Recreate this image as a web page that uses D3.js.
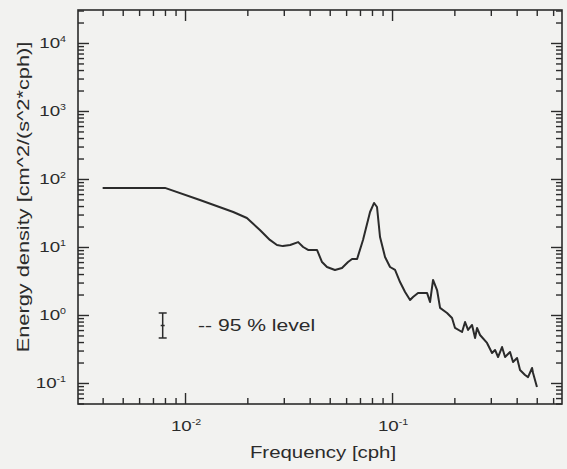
<!DOCTYPE html>
<html><head><meta charset="utf-8">
<script src="https://cdn.jsdelivr.net/npm/d3@7"></script>
<style>
html,body{margin:0;padding:0;background:#f2f2f0;}
svg{display:block;}
text{font-family:"Liberation Sans",Arial,Helvetica,sans-serif;fill:#2b2b2b;}
</style></head>
<body>
<script>
// Spectrum: frequency [cph] and energy density [cm^2/(s^2*cph)]
const freq = [0.0040,0.0080,0.0118,0.0171,0.0199,0.0230,0.0257,0.0278,0.0297,0.0322,0.0352,0.0372,0.0393,0.0434,0.0459,0.0485,0.0530,0.0573,0.0613,0.0641,0.0678,0.0724,0.0783,0.0819,0.0846,0.0875,0.0925,0.0978,0.1034,0.1093,0.1156,0.1222,0.1263,0.1335,0.1476,0.1526,0.1578,0.1650,0.1706,0.1844,0.1949,0.2015,0.2179,0.2253,0.2329,0.2435,0.2518,0.2574,0.2661,0.2876,0.3041,0.3145,0.3252,0.3399,0.3515,0.3715,0.3841,0.4017,0.4152,0.4390,0.4539,0.4746,0.4799,0.5012];
const energy = [74,74,49.1,32.7,26.7,17.8,12.7,10.7,10.3,10.7,11.8,10.0,9.04,9.04,6.01,5.08,4.59,4.91,6.01,6.66,6.66,12.7,32.7,44.4,38.7,14.0,7.13,5.08,4.59,3.05,2.18,1.66,1.84,2.11,2.11,1.55,3.27,2.33,1.27,1.07,0.904,0.644,0.562,0.789,0.602,0.713,0.459,0.644,0.508,0.388,0.276,0.306,0.241,0.338,0.241,0.286,0.204,0.233,0.155,0.131,0.122,0.166,0.140,0.0873];
const xMajor = [0.01, 0.1];
const xMajorLabels = ["-2", "-1"];
const yMajor = [0.1, 1, 10, 100, 1000, 10000];
const yMajorLabels = ["-1", "0", "1", "2", "3", "4"];
const errBar = {f: 0.0078, lo: 0.459, hi: 1.07, mid: 0.70};
const legendText = "-- 95 % level";
const xTitle = "Frequency [cph]";
const yTitle = "Energy density [cm^2/(s^2*cph)]";

const W = 567, H = 469;
const L = 78, R = 562, T = 10, B = 404;
const svg = d3.select("body").append("svg").attr("width", W).attr("height", H);

const x = d3.scaleLog().domain([Math.pow(10,-2.517), Math.pow(10,-0.179)]).range([L, R]);
const y = d3.scaleLog().domain([Math.pow(10,-1.309), Math.pow(10,4.485)]).range([B, T]);

function minors(scale) {
  const [a, b] = scale.domain();
  const out = [];
  for (let e = Math.floor(Math.log10(a)); e <= Math.ceil(Math.log10(b)); e++) {
    for (let k = 2; k <= 9; k++) {
      const v = k * Math.pow(10, e);
      if (v > a && v < b) out.push(v);
    }
  }
  return out;
}
const xMin = minors(x), yMin = minors(y);
const xMaj = xMajor.filter(v => v > x.domain()[0] && v < x.domain()[1]);
const yMaj = yMajor.filter(v => v > y.domain()[0] && v < y.domain()[1]);

function addAxis(axis, tx, ty) {
  const g = svg.append("g").attr("transform", `translate(${tx},${ty})`).call(axis);
  g.select(".domain").remove();
  g.selectAll("line").attr("stroke", "#2b2b2b").attr("stroke-width", 1.4);
  g.selectAll("text").remove();
}
const MAJ = 11, MIN = 6;
addAxis(d3.axisTop(x).tickValues(xMin).tickSize(MIN).tickFormat(""), 0, B);
addAxis(d3.axisTop(x).tickValues(xMaj).tickSize(MAJ).tickFormat(""), 0, B);
addAxis(d3.axisBottom(x).tickValues(xMin).tickSize(MIN).tickFormat(""), 0, T);
addAxis(d3.axisBottom(x).tickValues(xMaj).tickSize(MAJ).tickFormat(""), 0, T);
addAxis(d3.axisRight(y).tickValues(yMin).tickSize(MIN).tickFormat(""), L, 0);
addAxis(d3.axisRight(y).tickValues(yMaj).tickSize(MAJ).tickFormat(""), L, 0);
addAxis(d3.axisLeft(y).tickValues(yMin).tickSize(MIN).tickFormat(""), R, 0);
addAxis(d3.axisLeft(y).tickValues(yMaj).tickSize(MAJ).tickFormat(""), R, 0);

svg.append("rect").attr("x", L).attr("y", T).attr("width", R - L).attr("height", B - T)
  .attr("fill", "none").attr("stroke", "#2b2b2b").attr("stroke-width", 1.6);

const SX = 1.25;
yMajor.forEach((v, i) => {
  const t = svg.append("text").attr("text-anchor", "end")
    .attr("transform", `translate(66,${y(v) + 5}) scale(${SX},1)`)
    .style("font-size", "15px");
  t.append("tspan").text("10");
  t.append("tspan").attr("dy", -6).style("font-size", "8.5px").text(yMajorLabels[i]);
});
xMajor.forEach((v, i) => {
  const t = svg.append("text").attr("text-anchor", "middle")
    .attr("transform", `translate(${x(v) + 1},431) scale(${SX},1)`)
    .style("font-size", "15px");
  t.append("tspan").text("10");
  t.append("tspan").attr("dy", -6).style("font-size", "8.5px").text(xMajorLabels[i]);
});

svg.append("text").attr("text-anchor", "middle")
  .attr("transform", `translate(323,458) scale(1.2,1)`)
  .style("font-size", "17px").text(xTitle);
svg.append("text").attr("text-anchor", "middle")
  .attr("transform", `translate(29,197) rotate(-90) scale(1.28,1)`)
  .style("font-size", "17px").text(yTitle);

const data = freq.map((f, i) => ({f, e: energy[i]}));
svg.append("path").datum(data)
  .attr("fill", "none").attr("stroke", "#2b2b2b").attr("stroke-width", 2)
  .attr("stroke-linejoin", "round")
  .attr("d", d3.line().x(d => x(d.f)).y(d => y(d.e)));

const ex = x(errBar.f);
const eb = svg.append("g").attr("stroke", "#2b2b2b").attr("stroke-width", 1.5);
eb.append("line").attr("x1", ex).attr("x2", ex).attr("y1", y(errBar.hi)).attr("y2", y(errBar.lo));
eb.append("line").attr("x1", ex - 4).attr("x2", ex + 4).attr("y1", y(errBar.hi)).attr("y2", y(errBar.hi));
eb.append("line").attr("x1", ex - 4).attr("x2", ex + 4).attr("y1", y(errBar.lo)).attr("y2", y(errBar.lo));
eb.append("line").attr("x1", ex - 2).attr("x2", ex + 2).attr("y1", y(errBar.mid)).attr("y2", y(errBar.mid));
svg.append("text").attr("transform", `translate(198,331) scale(1.32,1)`)
  .style("font-size", "16px").text(legendText);
</script>
</body></html>
